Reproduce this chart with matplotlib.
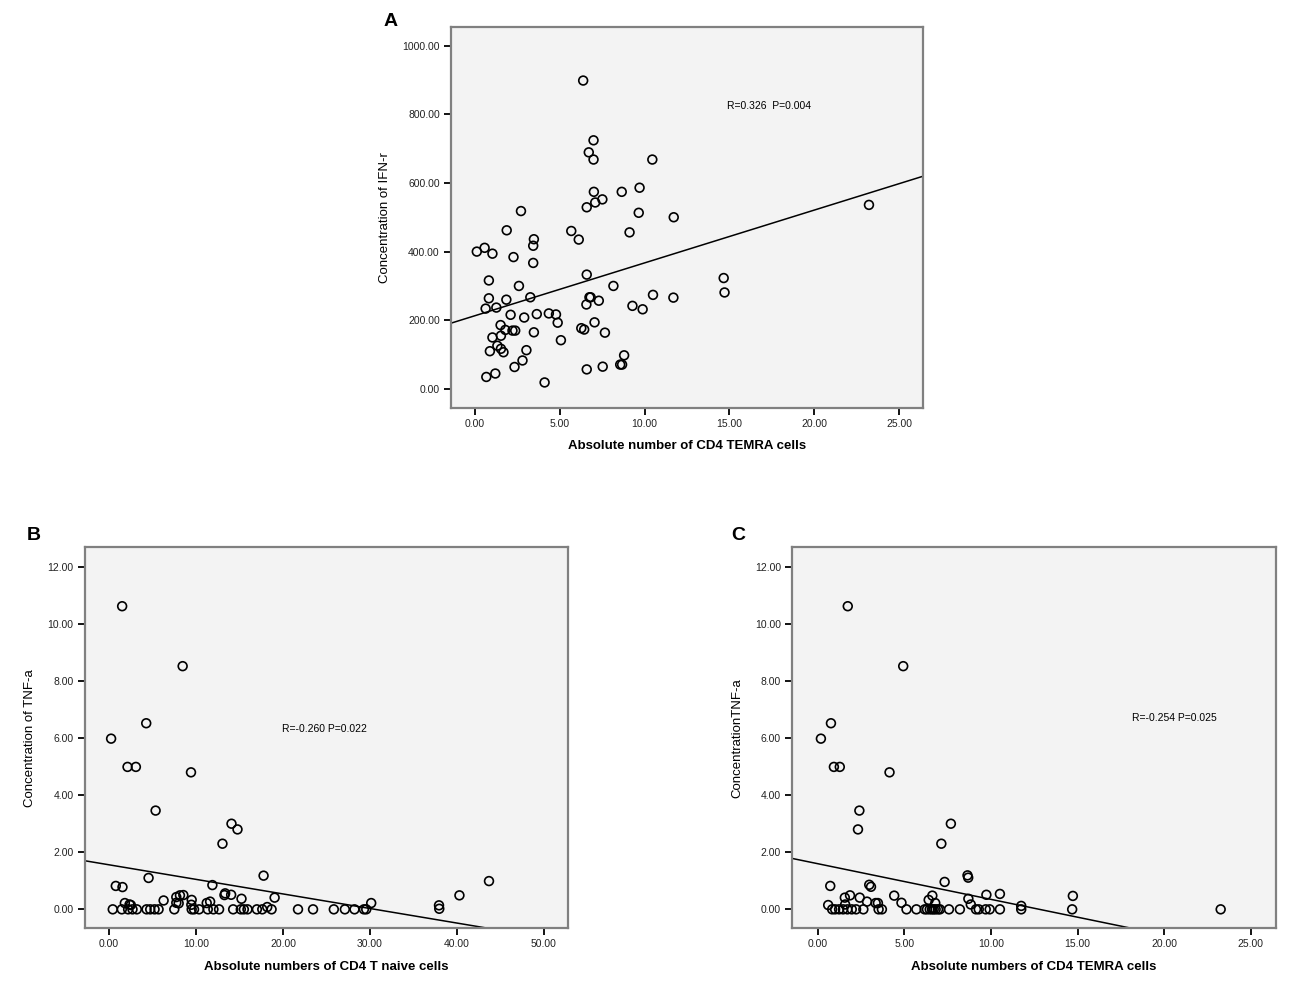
import matplotlib.pyplot as plt
from matplotlib.ticker import FormatStrFormatter

plt.rcParams['font.family'] = ['Liberation Sans', 'DejaVu Sans']

# panel A: CD4 TEMRA vs IFN-r
a_x = [6.39, 7.0, 6.72, 7.0, 10.46, 9.71, 7.02, 8.66, 7.52, 7.10, 6.60, 9.66, 2.73,
       11.72, 23.21, 1.89, 5.69, 9.12, 6.13, 3.49, 3.45, 0.13, 0.59, 1.05, 2.29, 3.45,
       14.66, 14.71, 6.60, 0.84, 2.61, 8.17, 10.50, 11.70, 0.84, 3.28, 6.76, 6.83, 1.87,
       7.31, 6.58, 9.29, 9.89, 0.65, 1.28, 2.12, 3.66, 4.37, 4.79, 2.92, 4.89, 7.06,
       1.53, 1.81, 2.23, 2.39, 6.28, 6.45, 3.49, 7.67, 1.55, 1.05, 5.08, 1.34, 1.55,
       1.70, 0.90, 3.05, 8.80, 2.82, 8.57, 8.68, 2.35, 7.54, 6.60, 1.22, 0.69, 4.12]
a_y = [898, 724, 689, 668, 668, 586, 574, 574, 552, 543, 529, 513, 518,
       500, 536, 462, 460, 456, 435, 436, 417, 400, 411, 394, 384, 367,
       323, 281, 333, 316, 300, 300, 274, 266, 264, 267, 267, 267, 260,
       257, 246, 242, 232, 234, 237, 216, 218, 220, 217, 208, 193, 194,
       186, 172, 170, 170, 177, 173, 165, 164, 155, 150, 142, 126, 117,
       107, 110, 113, 98, 83, 71, 71, 64, 65, 57, 45, 35, 19]
a_fit = [213.0, 15.4]  # intercept, slope

# panel B: CD4 T naive vs TNF-a
b_x = [1.5, 8.46, 4.27, 0.23, 2.12, 3.08, 9.42, 5.35, 14.08, 14.77, 13.04, 17.77,
       4.54, 0.77, 1.54, 11.88, 13.27, 13.35, 14.04, 15.23, 19.04, 6.27, 7.73, 8.15,
       8.54, 8.0, 7.73, 9.5, 9.46, 11.23, 11.62, 1.81, 2.35, 2.5, 18.19, 30.15,
       37.95, 37.98, 40.3, 43.7,
       0.42, 1.46, 2.19, 2.69, 3.19, 4.31, 4.73, 5.23, 5.69, 7.5, 9.5, 9.77, 10.35,
       11.35, 12.0, 12.65, 14.27, 15.15, 15.5, 15.92, 17.0, 17.62, 18.69, 21.73,
       23.46, 25.85, 27.12, 28.23, 29.31, 29.58]
b_y = [10.62, 8.52, 6.52, 5.98, 4.99, 4.99, 4.80, 3.46, 3.0, 2.80, 2.30, 1.18,
       1.10, 0.82, 0.78, 0.85, 0.50, 0.56, 0.51, 0.37, 0.41, 0.31, 0.43, 0.49,
       0.50, 0.21, 0.23, 0.33, 0.16, 0.22, 0.27, 0.22, 0.17, 0.15, 0.08, 0.22,
       0.14, 0.02, 0.49, 0.99,
       0, 0, 0, 0, 0, 0, 0, 0, 0, 0, 0, 0, 0,
       0, 0, 0, 0, 0, 0, 0, 0, 0, 0, 0,
       0, 0, 0, 0, 0, 0]
b_fit = [1.56, -0.051]

# panel C: CD4 TEMRA vs TNF-a
c_x = [1.74, 4.94, 0.77, 0.19, 0.94, 1.28, 4.15, 2.41, 2.33, 7.69, 7.14, 8.65,
       8.69, 7.33, 0.73, 2.98, 3.08, 4.42, 9.74, 10.52, 14.73, 1.87, 1.57, 2.43,
       1.59, 0.61, 2.85, 3.35, 3.48, 4.84, 6.62, 6.41, 6.79, 8.70, 8.84, 11.75,
       0.84, 1.01, 1.24, 1.47, 1.72, 1.97, 2.22, 2.64, 3.52, 3.71, 5.13, 5.70,
       6.18, 6.31, 6.47, 6.60, 6.70, 6.81, 6.95, 7.06, 7.58, 8.21, 9.14, 9.30,
       9.70, 9.93, 10.52, 11.75, 14.69, 23.26]
c_y = [10.62, 8.52, 6.52, 5.98, 4.99, 4.99, 4.80, 3.46, 2.80, 3.0, 2.30, 1.19,
       1.11, 0.96, 0.82, 0.86, 0.79, 0.48, 0.51, 0.54, 0.47, 0.49, 0.41, 0.41,
       0.17, 0.15, 0.27, 0.22, 0.22, 0.23, 0.48, 0.33, 0.22, 0.37, 0.17, 0.12,
       0, 0, 0, 0, 0, 0, 0, 0, 0, 0, 0, 0,
       0, 0, 0, 0, 0, 0, 0, 0, 0, 0, 0, 0,
       0, 0, 0, 0, 0, 0]
c_fit = [1.60, -0.125]

panels = [
    dict(pos=[0.3469, 0.5945, 0.3631, 0.379], x=a_x, y=a_y, fit=a_fit,
         xlim=(-1.39, 26.39), ylim=(-54, 1055), xticks=range(0, 26, 5),
         yticks=range(0, 1001, 200), letter='A', letter_xy=(-0.129, 1.002),
         xlabel='Absolute number of CD4 TEMRA cells', ylabel='Concentration of IFN-r',
         note='R=0.326  P=0.004', note_xy=(14.87, 825)),
    dict(pos=[0.0650, 0.0763, 0.3720, 0.379], x=b_x, y=b_y, fit=b_fit,
         xlim=(-2.83, 52.8), ylim=(-0.665, 12.68), xticks=range(0, 51, 10),
         yticks=range(0, 13, 2), letter='B', letter_xy=(-0.104, 1.019),
         xlabel='Absolute numbers of CD4 T naive cells', ylabel='Concentration of TNF-a',
         note='R=-0.260 P=0.022', note_xy=(19.85, 6.31)),
    dict(pos=[0.6092, 0.0763, 0.3723, 0.379], x=c_x, y=c_y, fit=c_fit,
         xlim=(-1.48, 26.45), ylim=(-0.665, 12.68), xticks=range(0, 26, 5),
         yticks=range(0, 13, 2), letter='C', letter_xy=(-0.112, 1.019),
         xlabel='Absolute numbers of CD4 TEMRA cells', ylabel='ConcentrationTNF-a',
         note='R=-0.254 P=0.025', note_xy=(18.14, 6.70)),
]

fig = plt.figure(figsize=(13, 10.05), dpi=100)

for p in panels:
    ax = fig.add_axes(p['pos'])
    ax.set_facecolor('#f3f3f3')
    ax.scatter(p['x'], p['y'], s=40, facecolors='none', edgecolors='black',
               linewidths=1.2, zorder=3)
    ax.axline((0, p['fit'][0]), slope=p['fit'][1], color='black', lw=1.1, zorder=2)
    ax.set_xlim(p['xlim'])
    ax.set_ylim(p['ylim'])
    ax.set_xticks(list(p['xticks']))
    ax.set_yticks(list(p['yticks']))
    ax.xaxis.set_major_formatter(FormatStrFormatter('%.2f'))
    ax.yaxis.set_major_formatter(FormatStrFormatter('%.2f'))
    ax.tick_params(direction='out', length=5, width=1.3, labelsize=7.5, pad=3,
                   colors='black', labelcolor='#222222')
    for s in ax.spines.values():
        s.set_color('#808080')
        s.set_linewidth(1.6)
    ax.set_xlabel(p['xlabel'], fontsize=9.5, fontweight='bold', labelpad=8)
    ax.set_ylabel(p['ylabel'], fontsize=9.5, labelpad=8)
    ax.text(p['note_xy'][0], p['note_xy'][1], p['note'], fontsize=7.5,
            ha='left', va='center')
    ax.text(p['letter_xy'][0], p['letter_xy'][1], p['letter'], transform=ax.transAxes,
            fontsize=14, fontweight='bold', ha='center', va='baseline')

fig.savefig('out.png', dpi=100)
